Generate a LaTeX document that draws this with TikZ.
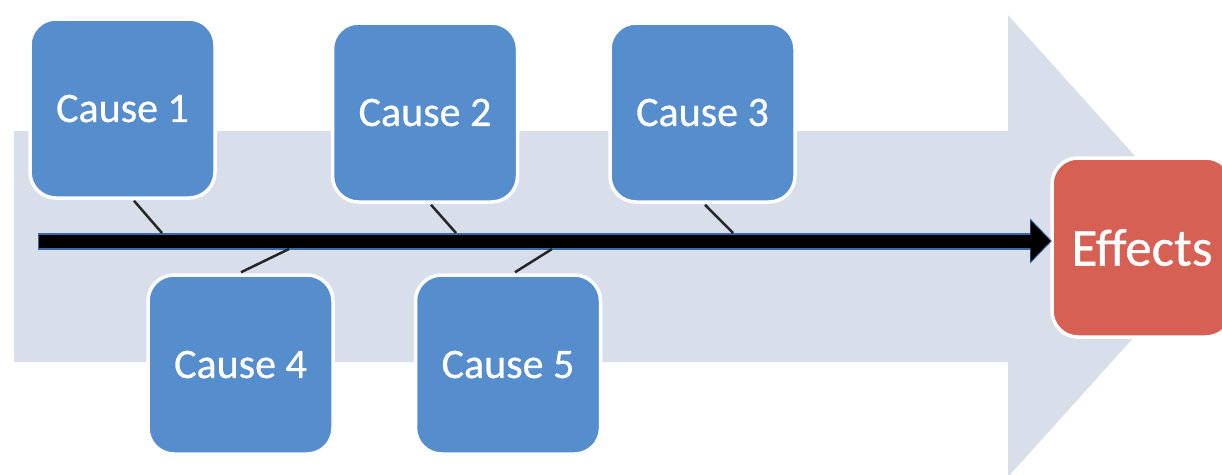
\documentclass[tikz,border=0pt]{standalone}
\usepackage{fontspec}
\setmainfont{Carlito}
\newfontfamily\boxfont[FakeBold=0.6]{Carlito}
\usetikzlibrary{arrows.meta,calc}
\definecolor{bgarrow}{RGB}{216,223,235}
\definecolor{causeblue}{RGB}{86,141,205}
\definecolor{effred}{RGB}{215,96,84}
\definecolor{spineedge}{RGB}{60,105,165}
\tikzset{
  causebox/.style={rectangle, rounded corners=26pt, fill=causeblue, draw=white, line width=3.5pt,
    minimum width=185pt, minimum height=179pt, inner sep=0pt, text=white,
    font=\boxfont\fontsize{42}{48}\selectfont},
  effbox/.style={rectangle, rounded corners=26pt, fill=effred, draw=white, line width=3.5pt,
    minimum width=180pt, minimum height=179pt, inner sep=0pt, text=white,
    font=\boxfont\fontsize{53}{60}\selectfont},
  bone/.style={line width=2.5pt, draw=black!85},
}
\begin{document}
\begin{tikzpicture}[x=1pt,y=-1pt]
\useasboundingbox (0,0) rectangle (1222,474);
% background arrow
\fill[bgarrow] (14,131) -- (1008,131) -- (1008,15) -- (1216,246) -- (1008,477) -- (1008,362) -- (14,362) -- cycle;
% boxes
\node[causebox] (c1) at (122.5,108.5) {Cause 1};
\node[causebox] (c2) at (425,112.5) {Cause 2};
\node[causebox] (c3) at (702.5,112.5) {Cause 3};
\node[causebox] (c4) at (240.5,364.5) {Cause 4};
\node[causebox] (c5) at (508,364.5) {Cause 5};
\node[effbox] (eff) at (1142,247.5) {Effects};
% spine
\coordinate (start) at (38,241);
\coordinate (tip) at (1052,241);
\draw[spineedge, line width=17pt, -{Triangle[length=22pt,width=44pt]}] (start) -- (tip);
\draw[black, line width=13pt, -{Triangle[length=20pt,width=40pt]}] ([xshift=1pt]start) -- ([xshift=-1.5pt]tip);
% bones
\coordinate (s1) at (162,233);
\coordinate (s2) at (456,233);
\coordinate (s3) at (733,233);
\coordinate (s4) at (289,249);
\coordinate (s5) at (552,249);
\draw[bone] ([xshift=11.5pt,yshift=-1pt]c1.south) -- (s1);
\draw[bone] ([xshift=6pt,yshift=-1pt]c2.south) -- (s2);
\draw[bone] ([xshift=2.5pt,yshift=-1pt]c3.south) -- (s3);
\draw[bone] ([xshift=0.5pt,yshift=1pt]c4.north) -- (s4);
\draw[bone] ([xshift=7pt,yshift=1pt]c5.north) -- (s5);
\end{tikzpicture}
\end{document}
